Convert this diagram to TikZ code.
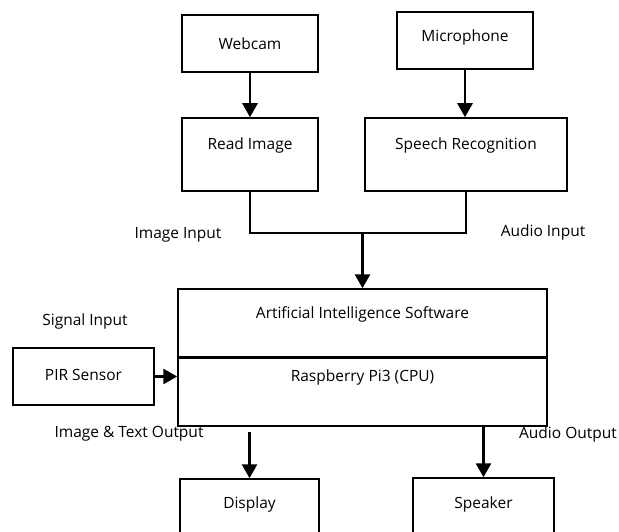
\documentclass[tikz,border=0pt]{standalone}
\usepackage{fontspec}
\setmainfont{Open Sans}
\usetikzlibrary{arrows.meta}

\begin{document}
\begin{tikzpicture}[x=1pt,y=-1pt,font=\fontsize{15.5}{18}\selectfont,
  box/.style={draw,line width=1.5pt,inner sep=0pt},
  wire/.style={line width=2.7pt},
  arrow/.style={wire,-{Triangle[length=14pt,width=15pt]}}]
\useasboundingbox (0,0) rectangle (619,532);
% input boxes
\node (webcam) at (250,43.5) [box,minimum width=136,minimum height=57] {Webcam};
\node (mic) at (465,40.5) [box,minimum width=136,minimum height=57,
  label={[yshift=3pt]center:Microphone}] {};
\node (read) at (250,154.5) [box,minimum width=136,minimum height=73,
  label={[yshift=9.5pt]center:Read Image}] {};
\node (speech) at (466,154.5) [box,minimum width=202,minimum height=73,
  label={[yshift=9.5pt]center:Speech Recognition}] {};
% main unit
\node (ai) at (362.5,323) [box,minimum width=369,minimum height=68,
  label={[yshift=9pt]center:Artificial Intelligence Software}] {};
\node (cpu) at (362.5,391.5) [box,minimum width=369,minimum height=69,
  label={[yshift=14.5pt]center:Raspberry Pi3 (CPU)}] {};
\draw[wire] (ai.south west) -- (ai.south east);
\node (pir) at (83.5,376.5) [box,minimum width=141,minimum height=57,
  label={[yshift=2pt]center:PIR Sensor}] {};
% outputs
\node (display) at (249.5,509) [box,minimum width=139,minimum height=60,
  label={[yshift=5pt]center:Display}] {};
\node (speaker) at (483.5,508) [box,minimum width=141,minimum height=60,
  label={[yshift=4pt]center:Speaker}] {};
% labels
\node (imgin) at (178,235) {Image Input};
\node (audin) at (543,232) {Audio Input};
\node (sigin) at (85,321) {Signal Input};
\node (imgout) at (129,434) {Image \& Text Output};
\node (audout) at (568,434) {Audio Output};
% connectors
\draw[arrow] (webcam.south) -- (read.north);
\draw[arrow] (mic.south) -- (mic.south |- speech.north);
\coordinate (join) at (362.5,233);
\draw[wire] (read.south) |- (join) -| (speech.south);
\draw[arrow] (join) -- (ai.north);
\draw[arrow] (pir.east) -- (pir.east -| cpu.west);
\draw[arrow] (cpu.south -| display.north) ++(0,5) -- (display.north);
\draw[arrow] (cpu.south -| speaker.north) -- (speaker.north);
\end{tikzpicture}
\end{document}
